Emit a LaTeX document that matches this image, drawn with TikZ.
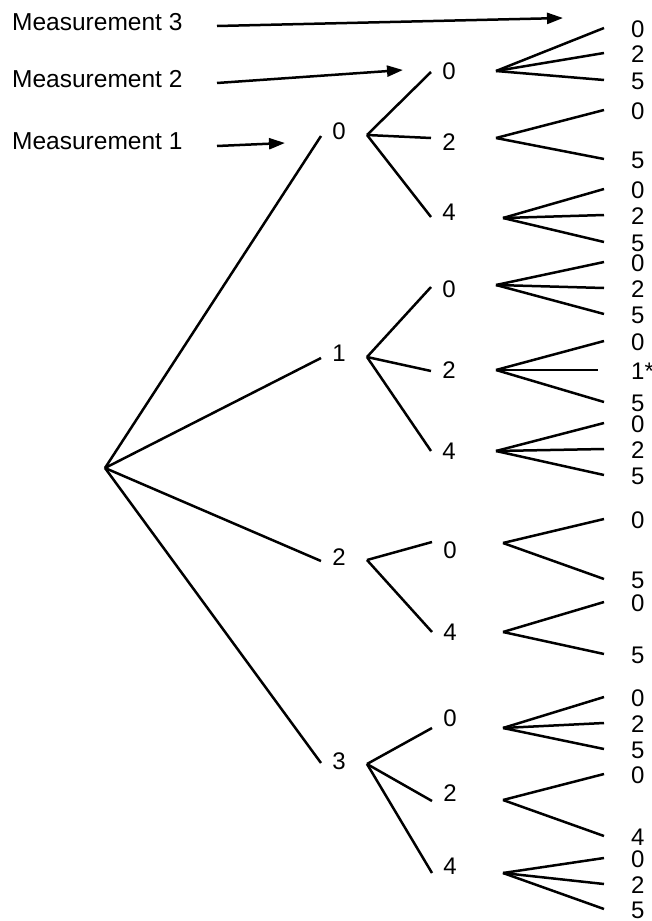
\documentclass[tikz,border=0pt]{standalone}
\usepackage{fontspec}
\setmainfont{Liberation Sans}
\usetikzlibrary{arrows.meta}

% a leaf: name, y of the branch end, printed value, fan point it grows from
\newcommand\treeleaf[5][604]{%
  \coordinate (#2in) at (#1,#3);
  \node[leaf] (#2) at (631,#3+1) {#4};
  \draw[edge] (#5) -- (#2in);
}

\begin{document}
\begin{tikzpicture}[x=1pt,y=-1pt,
  edge/.style={line width=2.5pt},
  pointer/.style={line width=2.5pt,-{Triangle[length=16pt,width=11pt]}},
  lbl/.style={font=\fontsize{24}{24}\selectfont,inner sep=0pt},
  leaf/.style={lbl,anchor=west},
  caption/.style={font=\fontsize{24.5}{24.5}\selectfont,anchor=west,inner sep=0pt}]
\useasboundingbox (0,0) rectangle (652,921);

% captions and their pointers
\node[caption] (cap3) at (12,22) {Measurement 3};
\node[caption] (cap2) at (12,79) {Measurement 2};
\node[caption] (cap1) at (12,141) {Measurement 1};
\coordinate (cap3s) at (217,26);  \coordinate (cap3t) at (563,18);
\coordinate (cap2s) at (217,83);  \coordinate (cap2t) at (403,70);
\coordinate (cap1s) at (217,146); \coordinate (cap1t) at (285,143);
\draw[pointer] (cap3s) -- (cap3t);
\draw[pointer] (cap2s) -- (cap2t);
\draw[pointer] (cap1s) -- (cap1t);

% root
\coordinate (root) at (105,468);

% first measurement
\coordinate (m0in) at (321,136); \node[lbl] (m0) at (339,131) {0}; \coordinate (m0out) at (367,135);
\coordinate (m1in) at (321,358); \node[lbl] (m1) at (339,353) {1}; \coordinate (m1out) at (367,357);
\coordinate (m2in) at (321,561); \node[lbl] (m2) at (339,557) {2}; \coordinate (m2out) at (367,560);
\coordinate (m3in) at (321,763); \node[lbl] (m3) at (339,761) {3}; \coordinate (m3out) at (367,764);
\foreach \k in {0,1,2,3} \draw[edge] (root) -- (m\k in);

% second measurement
\coordinate (n00in) at (431,72);  \node[lbl] (n00) at (449,71)  {0}; \coordinate (n00out) at (496,71);
\coordinate (n02in) at (431,138); \node[lbl] (n02) at (449,142) {2}; \coordinate (n02out) at (496,138);
\coordinate (n04in) at (431,217); \node[lbl] (n04) at (449,212) {4}; \coordinate (n04out) at (503,218);
\coordinate (n10in) at (431,287); \node[lbl] (n10) at (449,289) {0}; \coordinate (n10out) at (496,285);
\coordinate (n12in) at (431,371); \node[lbl] (n12) at (449,370) {2}; \coordinate (n12out) at (496,370);
\coordinate (n14in) at (431,451); \node[lbl] (n14) at (449,451) {4}; \coordinate (n14out) at (496,451);
\coordinate (n20in) at (432,542); \node[lbl] (n20) at (450,550) {0}; \coordinate (n20out) at (503,543);
\coordinate (n24in) at (432,632); \node[lbl] (n24) at (450,632) {4}; \coordinate (n24out) at (503,632);
\coordinate (n30in) at (432,728); \node[lbl] (n30) at (450,718) {0}; \coordinate (n30out) at (503,728);
\coordinate (n32in) at (432,801); \node[lbl] (n32) at (450,793) {2}; \coordinate (n32out) at (503,800);
\coordinate (n34in) at (432,873); \node[lbl] (n34) at (450,866) {4}; \coordinate (n34out) at (503,873);
\foreach \a/\b in {0/0,0/2,0/4,1/0,1/2,1/4,2/0,2/4,3/0,3/2,3/4}
  \draw[edge] (m\a out) -- (n\a\b in);

% third measurement
\treeleaf{p000}{28}{0}{n00out}
\treeleaf{p002}{53}{2}{n00out}
\treeleaf{p005}{80}{5}{n00out}
\treeleaf{p020}{110}{0}{n02out}
\treeleaf{p025}{159}{5}{n02out}
\treeleaf{p040}{189}{0}{n04out}
\treeleaf{p042}{215}{2}{n04out}
\treeleaf{p045}{242}{5}{n04out}
\treeleaf{p100}{262}{0}{n10out}
\treeleaf{p102}{288}{2}{n10out}
\treeleaf{p105}{314}{5}{n10out}
\treeleaf{p120}{341}{0}{n12out}
\treeleaf[598]{p121}{370}{1*}{n12out}
\treeleaf{p125}{402}{5}{n12out}
\treeleaf{p140}{423}{0}{n14out}
\treeleaf{p142}{449}{2}{n14out}
\treeleaf{p145}{475}{5}{n14out}
\treeleaf{p200}{519}{0}{n20out}
\treeleaf{p205}{579}{5}{n20out}
\treeleaf{p240}{602}{0}{n24out}
\treeleaf{p245}{654}{5}{n24out}
\treeleaf{p300}{697}{0}{n30out}
\treeleaf{p302}{723}{2}{n30out}
\treeleaf{p305}{749}{5}{n30out}
\treeleaf{p320}{774}{0}{n32out}
\treeleaf{p324}{836}{4}{n32out}
\treeleaf{p340}{858}{0}{n34out}
\treeleaf{p342}{884}{2}{n34out}
\treeleaf{p345}{909}{5}{n34out}
\end{tikzpicture}
\end{document}
